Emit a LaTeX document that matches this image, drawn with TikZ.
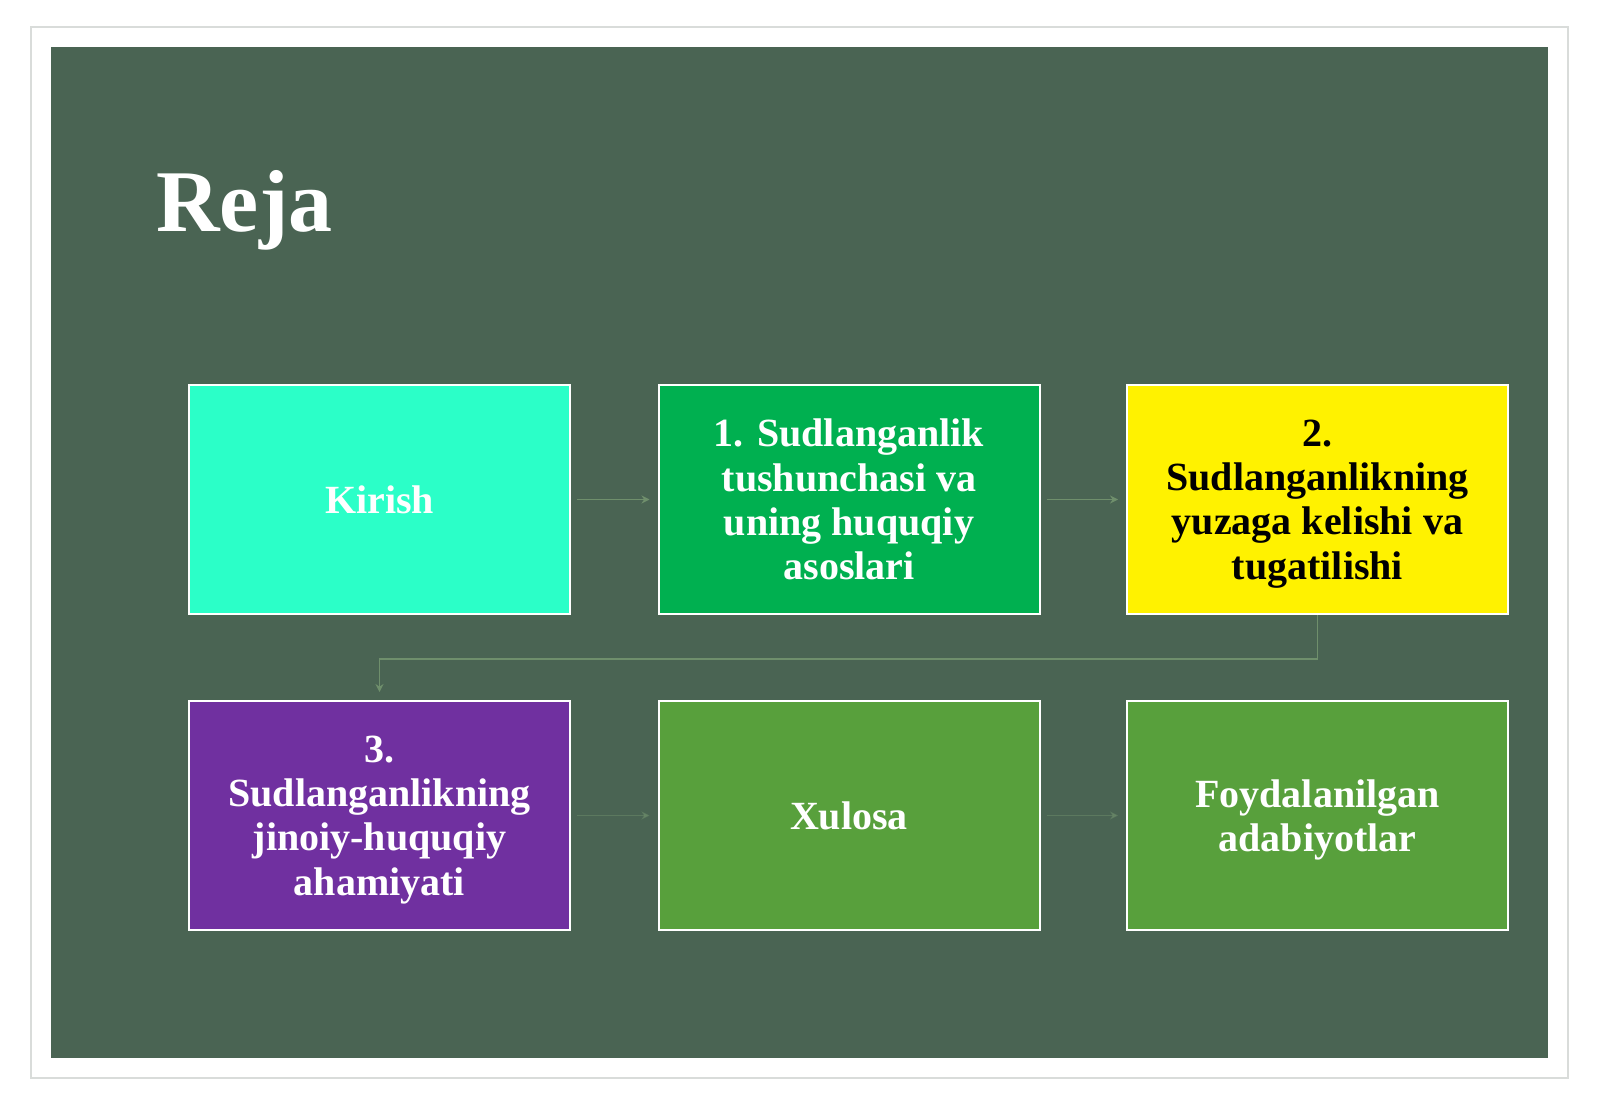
\documentclass[tikz,border=0pt]{standalone}
\usepackage{fontspec}
\setmainfont{Liberation Serif}
\usetikzlibrary{arrows.meta}
\definecolor{panel}{HTML}{4A6453}
\definecolor{frameline}{HTML}{D9DCDA}
\definecolor{aqua}{HTML}{2BFFC8}
\definecolor{brightgreen}{HTML}{00B050}
\definecolor{plumviolet}{HTML}{7030A0}
\definecolor{grassgreen}{HTML}{58A03C}
\definecolor{linkgreen}{HTML}{6F8F6C}

\begin{document}
\begin{tikzpicture}[x=0.5pt, y=-0.5pt,
    planbox/.style={draw=white, line width=1pt, minimum width=190.5pt, minimum height=114.5pt,
        align=center, inner sep=0pt, text depth=0pt, text=white,
        font=\fontsize{20}{22.2}\selectfont\bfseries},
    link/.style={draw=linkgreen, line width=0.8pt, -{Stealth[length=4pt, width=4pt]},
        shorten <=3pt, shorten >=4pt}]
    \useasboundingbox (0, 0) rectangle (1600, 1107);
    \fill[white] (0, 0) rectangle (1600, 1107);
    \draw[frameline, line width=0.8pt] (31, 27) rectangle (1568, 1078);
    \fill[panel] (51, 47) rectangle (1548, 1058);

    \node[anchor=base west, inner sep=0pt, text=white, font=\fontsize{44}{50}\selectfont\bfseries] (reja) at (156, 232) {Reja};

    \node[planbox, fill=aqua] (kirish) at (379.5, 499.5) {Kirish};
    \node[planbox, fill=brightgreen] (tushuncha) at (849, 499.5) {1. Sudlanganlik\\tushunchasi va\\uning huquqiy\\asoslari};
    \node[planbox, fill=yellow, text=black] (yuzaga) at (1317.5, 499.5) {2.\\Sudlanganlikning\\yuzaga kelishi va\\tugatilishi};
    \node[planbox, fill=plumviolet] (ahamiyat) at (379.5, 815.5) {3.\\Sudlanganlikning\\jinoiy-huquqiy\\ahamiyati};
    \node[planbox, fill=grassgreen] (xulosa) at (849, 815.5) {Xulosa};
    \node[planbox, fill=grassgreen] (adabiyot) at (1317.5, 815.5) {Foydalanilgan\\adabiyotlar};

    \draw[link] (kirish) -- (tushuncha);
    \draw[link] (tushuncha) -- (yuzaga);
    \draw[link, shorten <=0pt] (yuzaga.south) -- ++(0, 44) -| (ahamiyat.north);
    \draw[link, opacity=0.5] (ahamiyat) -- (xulosa);
    \draw[link, opacity=0.5] (xulosa) -- (adabiyot);
\end{tikzpicture}
\end{document}
